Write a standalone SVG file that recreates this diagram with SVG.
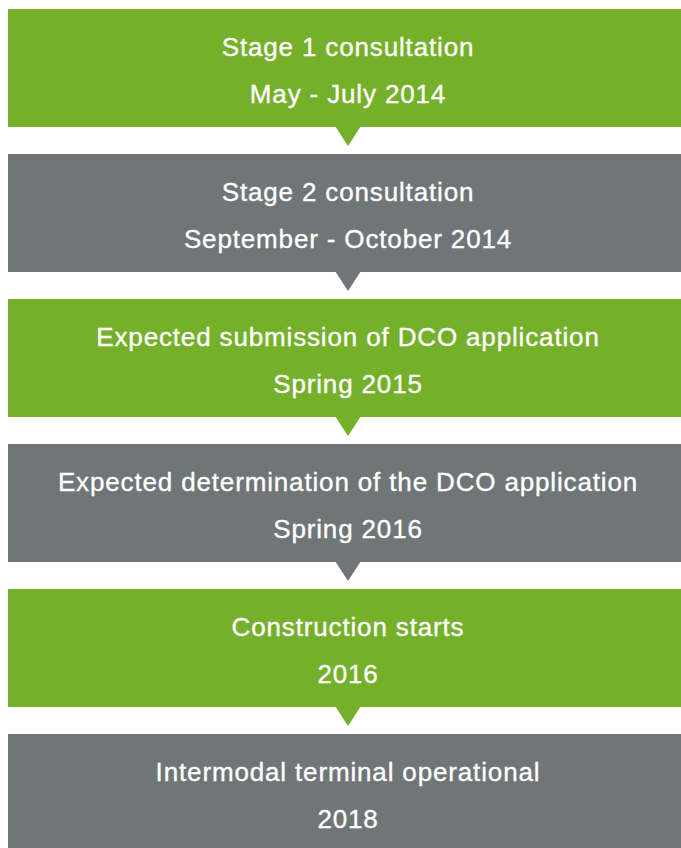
<svg xmlns="http://www.w3.org/2000/svg" width="681" height="848" viewBox="0 0 681 848">
  <style>
    .green { fill: #75b02a; }
    .gray { fill: #707577; }
    .label { font-family: "Liberation Sans", Arial, Helvetica, sans-serif; font-size: 26px; fill: #ffffff; stroke: #ffffff; stroke-width: 0.35px; text-anchor: middle; letter-spacing: 0.85px; }
  </style>
  <rect width="681" height="848" fill="#ffffff"/>

  <g id="stage1">
    <rect class="green" x="8" y="9" width="673" height="118"/>
    <polygon class="green" points="335,126 361,126 348,146"/>
    <text class="label" x="348" y="56">Stage 1 consultation</text>
    <text class="label" x="348" y="103">May - July 2014</text>
  </g>

  <g id="stage2">
    <rect class="gray" x="8" y="154" width="673" height="118"/>
    <polygon class="gray" points="335,271 361,271 348,291"/>
    <text class="label" x="348" y="201">Stage 2 consultation</text>
    <text class="label" x="348" y="248">September - October 2014</text>
  </g>

  <g id="submission">
    <rect class="green" x="8" y="299" width="673" height="118"/>
    <polygon class="green" points="335,416 361,416 348,436"/>
    <text class="label" x="348" y="346">Expected submission of DCO application</text>
    <text class="label" x="348" y="393">Spring 2015</text>
  </g>

  <g id="determination">
    <rect class="gray" x="8" y="444" width="673" height="118"/>
    <polygon class="gray" points="335,561 361,561 348,581"/>
    <text class="label" x="348" y="491">Expected determination of the DCO application</text>
    <text class="label" x="348" y="538">Spring 2016</text>
  </g>

  <g id="construction">
    <rect class="green" x="8" y="589" width="673" height="118"/>
    <polygon class="green" points="335,706 361,706 348,726"/>
    <text class="label" x="348" y="636">Construction starts</text>
    <text class="label" x="348" y="683">2016</text>
  </g>

  <g id="operational">
    <rect class="gray" x="8" y="734" width="673" height="118"/>
    <text class="label" x="348" y="781">Intermodal terminal operational</text>
    <text class="label" x="348" y="828">2018</text>
  </g>

  <g id="connectors"></g>
</svg>
